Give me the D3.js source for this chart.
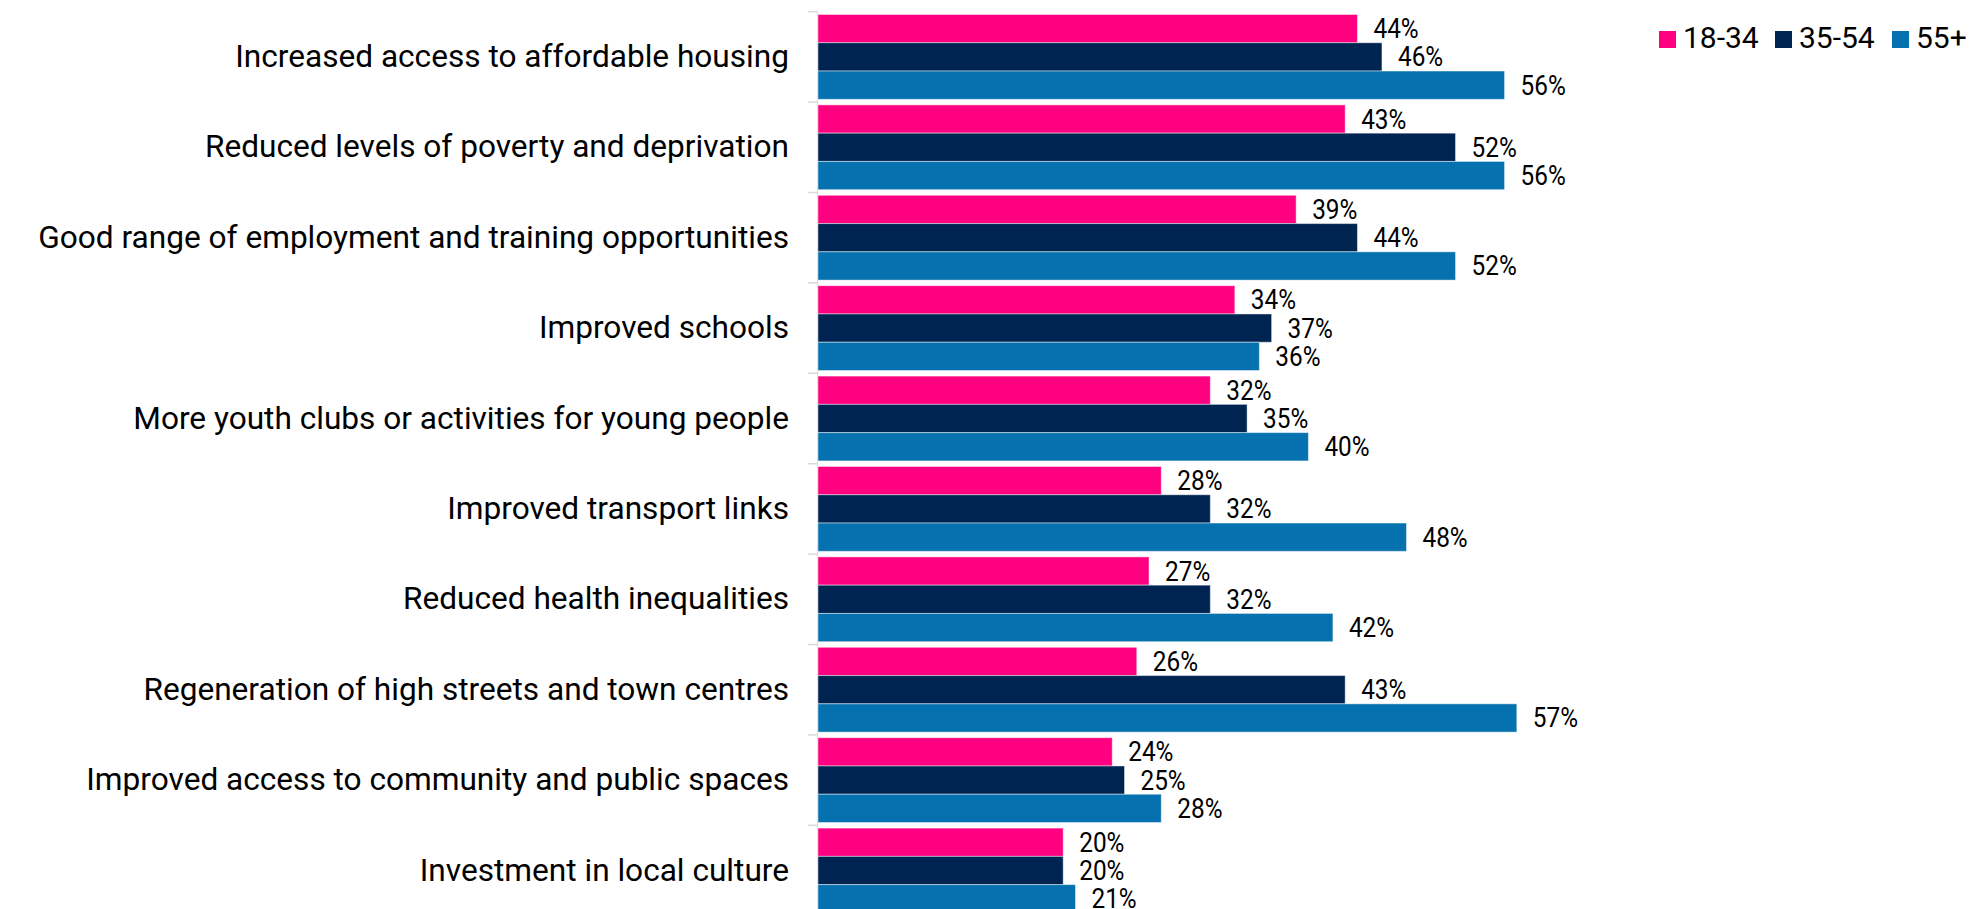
<!DOCTYPE html>
<html>
<head>
<meta charset="utf-8">
<script src="https://cdn.jsdelivr.net/npm/d3@7"></script>
<style>
  html, body { margin: 0; padding: 0; background: #fff; }
  svg text { font-family: Roboto, "Liberation Sans", sans-serif; fill: #000; }
</style>
</head>
<body>
<svg id="chart" width="1970" height="909"></svg>
<script>
// Priorities by age group (% selecting each)
const categories = [
  "Increased access to affordable housing",
  "Reduced levels of poverty and deprivation",
  "Good range of employment and training opportunities",
  "Improved schools",
  "More youth clubs or activities for young people",
  "Improved transport links",
  "Reduced health inequalities",
  "Regeneration of high streets and town centres",
  "Improved access to community and public spaces",
  "Investment in local culture"
];
const seriesNames = ["18-34", "35-54", "55+"];
const age18to34 = [44, 43, 39, 34, 32, 28, 27, 26, 24, 20];
const age35to54 = [46, 52, 44, 37, 35, 32, 32, 43, 25, 20];
const age55plus = [56, 56, 52, 36, 40, 48, 42, 57, 28, 21];
const seriesColors = ["#FF0080", "#002451", "#0571AE"];

const seriesValues = [age18to34, age35to54, age55plus];
const rows = categories.map((c, i) => ({
  category: c,
  values: seriesNames.map((s, k) => ({ series: s, value: seriesValues[k][i] }))
}));

const svg = d3.select("#chart");
const axisX = 818;
const plotTop = 11.7, step = 90.4;

const x = d3.scaleLinear().domain([0, 100]).range([axisX, axisX + 1226]);
const y0 = d3.scaleBand().domain(categories)
  .range([plotTop, plotTop + step * categories.length])
  .paddingInner(0.062).paddingOuter(0.031);
const y1 = d3.scaleBand().domain(seriesNames).range([0, y0.bandwidth()]);
const color = d3.scaleOrdinal().domain(seriesNames).range(seriesColors);

// horizontal text stretch per text kind
const catStretch = 1.02, valStretch = 0.87, legStretch = 1.0;

// category axis: line plus ticks at group boundaries
svg.append("line")
  .attr("x1", axisX - 0.5).attr("x2", axisX - 0.5)
  .attr("y1", plotTop).attr("y2", 909)
  .attr("stroke", "#d9d9d9").attr("stroke-width", 1);
const boundaries = categories.map(c => y0(c) - y0.step() * y0.paddingInner() / 2);
svg.selectAll("line.tick").data(boundaries).enter().append("line")
  .attr("class", "tick")
  .attr("x1", axisX - 10).attr("x2", axisX)
  .attr("y1", d => d).attr("y2", d => d)
  .attr("stroke", "#d9d9d9").attr("stroke-width", 1.5);

// category labels
svg.selectAll("text.cat").data(categories).enter().append("text")
  .attr("class", "cat")
  .attr("transform", d => `translate(789,${y0(d) + y0.bandwidth() / 2 + 10}) scale(${catStretch},1)`)
  .attr("text-anchor", "end")
  .style("font-size", "31px")
  .text(d => d);

// bars
const groups = svg.selectAll("g.grp").data(rows).enter().append("g")
  .attr("class", "grp")
  .attr("transform", d => `translate(0,${y0(d.category)})`);

groups.selectAll("rect").data(d => d.values).enter().append("rect")
  .attr("x", x(0))
  .attr("y", d => y1(d.series))
  .attr("width", d => x(d.value) - x(0))
  .attr("height", y1.bandwidth())
  .attr("fill", d => color(d.series))
  .attr("stroke", "rgba(255,255,255,0.45)")
  .attr("stroke-width", 1);

groups.selectAll("text.val").data(d => d.values).enter().append("text")
  .attr("class", "val")
  .attr("transform", d => `translate(${x(d.value) + 16},${y1(d.series) + y1.bandwidth() / 2 + 9.5}) scale(${valStretch},1)`)
  .style("font-size", "28px")
  .text(d => d.value + "%");

// legend
const legendX = [1659, 1775, 1892];
const legend = svg.selectAll("g.leg").data(seriesNames).enter().append("g")
  .attr("class", "leg")
  .attr("transform", (d, i) => `translate(${legendX[i]},31)`);
legend.append("rect")
  .attr("width", 17).attr("height", 17)
  .attr("fill", d => color(d));
legend.append("text")
  .attr("transform", `translate(24,17) scale(${legStretch},1)`)
  .style("font-size", "30px")
  .text(d => d);
</script>
</body>
</html>
